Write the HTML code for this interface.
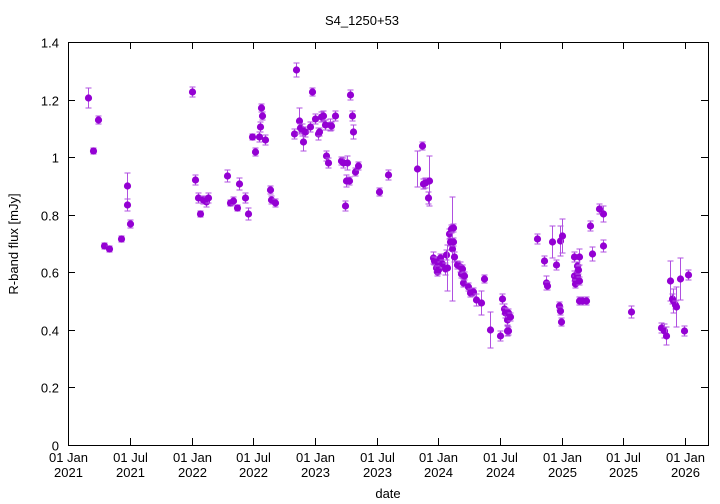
<!DOCTYPE html><html><head><style>body{margin:0;background:#fff}svg{display:block}text{font-family:"Liberation Sans",sans-serif;font-size:13px;fill:#000}</style></head><body>
<svg width="720" height="504" xmlns="http://www.w3.org/2000/svg">
<rect width="720" height="504" fill="#fff"/>
<g id="grid" stroke="#000" stroke-width="1"></g>
<g id="pts"></g>
<rect x="68.5" y="42.5" width="640" height="403" fill="none" stroke="#000"/>
<text x="362" y="25" text-anchor="middle">S4_1250+53</text>
<text x="388" y="498" text-anchor="middle">date</text>
<text transform="translate(18,244) rotate(-90)" text-anchor="middle">R-band flux [mJy]</text>
<g id="lab"></g>
</svg>
<script>
var ns="http://www.w3.org/2000/svg";
function el(t,a,p){var e=document.createElementNS(ns,t);for(var k in a)e.setAttribute(k,a[k]);document.getElementById(p).appendChild(e);return e;}
var ys=["0","0.2","0.4","0.6","0.8","1","1.2","1.4"];
for(var i=0;i<8;i++){var y=445-i*403/7;y=Math.round(y)+0.5;
el("line",{x1:68,x2:75,y1:y,y2:y},"grid");el("line",{x1:701,x2:708,y1:y,y2:y},"grid");
var t=el("text",{x:59,y:y+5,"text-anchor":"end"},"lab");t.textContent=ys[i];}
var xs=[68,129.5,192,253,315,376.5,438,500,562,623,685];
var xl=["01 Jan","01 Jul","01 Jan","01 Jul","01 Jan","01 Jul","01 Jan","01 Jul","01 Jan","01 Jul","01 Jan"];
var yr=["2021","2021","2022","2022","2023","2023","2024","2024","2025","2025","2026"];
xs.forEach(function(x,i){x=Math.round(x)+0.5;el("line",{x1:x,x2:x,y1:445,y2:438},"grid");el("line",{x1:x,x2:x,y1:42,y2:49},"grid");
var t=el("text",{x:x,y:462,"text-anchor":"middle"},"lab");t.textContent=xl[i];t=el("text",{x:x,y:477,"text-anchor":"middle"},"lab");t.textContent=yr[i];});
var d=[[88,98,9],[93,151,2],[98,120,3],[104,246,2],[109,249,2],[121,239,2],[127,186,12],[127,205,5],[130,224,3],
[192,92,4],[195,180,4],[200,214,2],[198,198,4],[203,200,3],[206,202,4],[208,198,4],
[227,176,5],[230,203,2],[233,201,3],[237,208,2],[239,184,5],[245,198,4],[248,214,5],[252,137,2],[255,152,3],[259,137,4],[260,127,4],[261,108,3],[262,116,3],[265,140,4],[270,190,3],[271,200,3],[275,203,3],
[294,134,4],[296,70,6],[299,121,12],[300,128,3],[302,130,5],[303,142,8],[305,132,4],[310,127,4],[312,92,3],[315,119,4],[318,134,5],[319,132,3],[321,117,4],[323,116,4],[325,125,4],[326,156,4],[328,163,4],[330,125,5],[331,126,3],[335,116,4],[341,161,3],[343,163,4],[347,163,6],[346,181,5],[345,206,4],[349,181,3],[350,95,4],[352,116,4],[353,132,6],[355,172,3],[358,166,3],[379,192,3],[388,175,4],
[417,169,17],[422,146,3],[423,184,4],[425,183,4],[429,181,24],[428,198,5],[433,258,5],[434,261,3],[436,268,3],[437,262,3],[437,272,3],[438,270,3],[440,258,3],[442,264,3],[445,269,5],[446,255,4],[447,268,22],[449,234,4],[450,242,3],[451,229,3],[452,249,51],[453,228,3],[453,242,3],[454,257,4],[457,265,3],[460,267,4],[461,274,3],[462,269,3],[463,283,3],[464,276,3],[468,287,3],[470,293,3],[473,292,3],[476,300,5],[481,303,11],[484,279,3],[490,330,17],[500,336,4],[502,299,4],[504,309,4],[505,313,4],[507,320,4],[507,331,4],[508,313,3],[510,317,3],[508,331,3],
[537,239,4],[544,261,4],[546,283,6],[547,286,3],[552,242,15],[556,265,4],[560,241,14],[562,236,16],[559,306,3],[560,311,3],[561,322,3],[574,257,4],[574,276,4],[575,280,3],[575,284,3],[577,266,3],[577,276,3],[578,270,3],[579,257,7],[579,281,3],[579,301,3],[582,301,3],[586,301,3],[590,226,4],[592,254,6],[599,209,4],[603,214,7],[603,246,5],[631,312,5],
[661,328,4],[664,331,6],[666,336,8],[670,281,19],[672,299,4],[673,301,11],[675,305,3],[676,307,19],[680,279,20],[684,331,4],[688,275,4]];
d.forEach(function(p){var x=p[0]+0.5,y=p[1],e=p[2]+1;
el("path",{d:"M"+x+" "+(y-e)+"V"+(y+e)+"M"+(x-3)+" "+(y-e)+"H"+(x+3)+"M"+(x-3)+" "+(y+e)+"H"+(x+3),stroke:"#b050e0","stroke-width":1,fill:"none"},"pts");
el("circle",{cx:x,cy:y,r:3.6,fill:"#9400d3"},"pts");});
</script>
</body></html>
